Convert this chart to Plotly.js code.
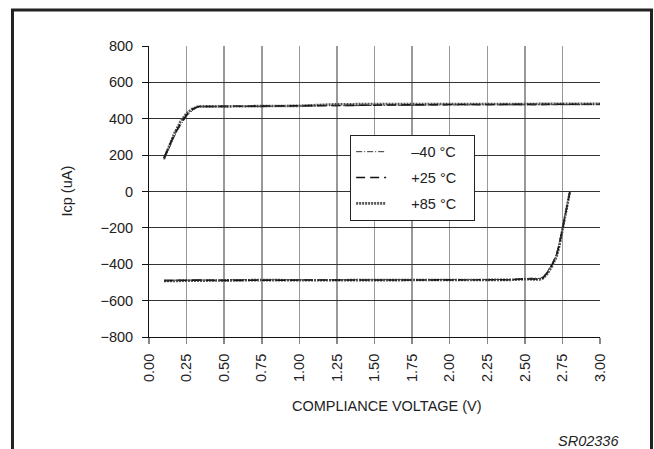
<!DOCTYPE html>
<html>
<head>
<meta charset="utf-8">
<script src="https://cdn.plot.ly/plotly-3.0.1.min.js"></script>
<style>html,body{margin:0;padding:0;background:#fff;}#chart{width:654px;height:449px;}</style>
</head>
<body>
<div id="chart"></div>
<script>
// Upper branch (source current)
const upX_m40 = [0.10,0.13,0.17,0.21,0.25,0.29,0.33,0.50,0.75,1.00,1.25,1.50,2.00,2.50,3.00];
const upY_m40 = [175,235,305,365,412,447,466,467,469,470,474,475,476,477,478];
const upX_p25 = [0.10,0.13,0.17,0.21,0.25,0.29,0.33,0.50,0.75,1.00,1.25,1.50,2.00,2.50,3.00];
const upY_p25 = [185,245,315,372,420,452,467,468,470,471,476,477,478,479,480];
const upX_p85 = [0.10,0.13,0.17,0.21,0.25,0.29,0.33,0.50,0.75,1.00,1.25,1.50,2.00,2.50,3.00];
const upY_p85 = [180,240,322,385,430,456,468,468,470,471,480,480,480,481,482];
// Lower branch (sink current)
const loX_m40 = [0.10,0.30,0.50,0.75,1.00,1.50,2.00,2.40,2.50,2.55,2.60,2.62,2.65,2.68,2.71,2.73,2.75,2.77,2.79,2.80];
const loY_m40 = [-488,-486,-488,-485,-486,-486,-486,-484,-479,-476,-478,-470,-440,-398,-345,-282,-205,-118,-40,0];
const loX_p25 = [0.10,0.30,0.50,0.75,1.00,1.50,2.00,2.40,2.50,2.55,2.60,2.62,2.65,2.68,2.71,2.73,2.75,2.77,2.79,2.80];
const loY_p25 = [-490,-487,-489,-486,-487,-487,-487,-485,-481,-479,-481,-474,-446,-405,-352,-290,-212,-124,-45,0];
const loX_p85 = [0.10,0.30,0.50,0.75,1.00,1.50,2.00,2.40,2.50,2.55,2.60,2.62,2.65,2.68,2.71,2.73,2.75,2.77,2.79,2.80];
const loY_p85 = [-492,-490,-492,-487,-488,-488,-488,-486,-482,-481,-484,-478,-452,-412,-360,-298,-218,-130,-50,0];

const seriesNames = ['\u201340 \u00B0C', '+25 \u00B0C', '+85 \u00B0C'];
const yTicks = [-800,-600,-400,-200,0,200,400,600,800];

const styles = [
  {color:'#333', width:1, dash:'6px,2px,1px,2px'},
  {color:'#111', width:1.6, dash:'9px,5px'},
  {color:'#555', width:2.6, dash:'2px,1px'}
];
const ups = [[upX_m40,upY_m40],[upX_p25,upY_p25],[upX_p85,upY_p85]];
const los = [[loX_m40,loY_m40],[loX_p25,loY_p25],[loX_p85,loY_p85]];

const padL = '\u00A0\u00A0\u00A0\u00A0\u00A0';
const padR = '\u00A0\u00A0\u00A0';

const traces = [];
for (let i = 2; i >= 0; i--) {
  traces.push({x: ups[i][0], y: ups[i][1], type:'scatter', mode:'lines', name: seriesNames[i],
    legendgroup:'g'+i, showlegend:false, line: styles[i], hoverinfo:'skip'});
  traces.push({x: los[i][0], y: los[i][1], type:'scatter', mode:'lines', name: seriesNames[i],
    legendgroup:'g'+i, showlegend:false, line: styles[i], hoverinfo:'skip'});
}
for (let i = 0; i < 3; i++) {
  traces.push({x:[null], y:[null], type:'scatter', mode:'lines', name: padL + seriesNames[i] + padR,
    legendgroup:'h'+i, legendrank:i+1, showlegend:true, line: styles[i]});
}

const F = 'Liberation Sans, Arial, sans-serif';
const layout = {
  width:654, height:449,
  margin:{l:149, r:54, t:46, b:112},
  paper_bgcolor:'#fff', plot_bgcolor:'#fff',
  font:{family:F, size:14, color:'#222'},
  showlegend:true,
  legend:{x:0.446, y:0.695, xanchor:'left', yanchor:'top', bgcolor:'#fff',
    bordercolor:'#222', borderwidth:1, font:{family:F, size:14.5, color:'#222'},
    traceorder:'grouped', tracegroupgap:4},
  xaxis:{range:[0,3], dtick:0.25, tick0:0, tickformat:'.2f', tickangle:-90,
    showgrid:true, gridcolor:'#999', gridwidth:1.5, zeroline:false,
    showline:true, linecolor:'#111', linewidth:1,
    ticks:'outside', ticklen:6, tickcolor:'#888', tickwidth:1.5, ticklabelstandoff:4,
    tickfont:{family:F, size:14.5, color:'#222'}, fixedrange:true},
  yaxis:{range:[-800,800], tickvals:yTicks, showgrid:true, gridcolor:'#333', gridwidth:1,
    zeroline:false, showline:true, linecolor:'#111', linewidth:1,
    ticks:'outside', ticklen:6, tickcolor:'#111', tickwidth:1, ticklabelstandoff:6,
    tickfont:{family:F, size:14.5, color:'#222'}, fixedrange:true},
  annotations:[
    {text:'Icp (uA)', xref:'paper', yref:'paper', x:-0.184, y:0.5, textangle:-90,
      xanchor:'center', yanchor:'middle',
      showarrow:false, font:{family:F, size:14.5, color:'#222'}},
    {text:'COMPLIANCE VOLTAGE (V)', xref:'paper', yref:'paper', x:0.528, y:-0.236,
      xanchor:'center', yanchor:'middle',
      showarrow:false, font:{family:F, size:14.5, color:'#222'}},
    {text:'<i>SR02336</i>', xref:'paper', yref:'paper', x:0.9745, y:-0.357,
      xanchor:'center', yanchor:'middle',
      showarrow:false, font:{family:F, size:14.5, color:'#222'}}
  ],
  shapes:[
    {type:'path', xref:'paper', yref:'paper',
      path:'M -0.3027,-0.6 L -0.3027,1.1241 L 1.1142,1.1241 L 1.1142,-0.6',
      line:{color:'#222', width:3}}
  ]
};
Plotly.newPlot('chart', traces, layout, {displayModeBar:false, staticPlot:true});
</script>
</body>
</html>
